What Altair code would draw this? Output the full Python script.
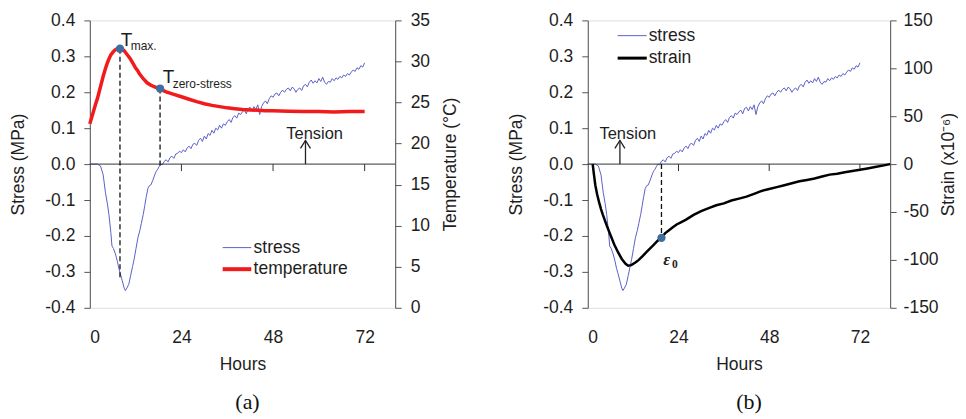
import altair as alt
import pandas as pd

# ---------------- data ----------------
stress_hours = [0, 1, 2, 2.8, 3.5, 4.1, 4.6, 5.0, 5.5, 5.8, 6.2, 6.7, 7.2, 7.6, 8.0, 8.5, 9.0, 9.3,
                9.7, 10.2, 10.7, 11.2, 11.6, 12.1, 12.6, 13.1, 13.5, 14.0, 14.4, 14.8, 15.2, 15.6,
                16.0, 16.5, 17.0, 17.4, 17.8, 18.2, 18.6, 19.0, 19.5, 20.0, 20.5, 21.0, 21.5, 22.0,
                22.5, 23.0, 23.5, 24.0, 24.5, 25.0, 25.5, 26.0, 26.5, 27.0, 27.5, 28.0, 28.5, 29.0,
                29.5, 30.0, 30.5, 31.0, 31.5, 32.0, 32.5, 33.0, 33.5, 34.0, 34.5, 35.0, 35.5, 36.0,
                36.5, 37.0, 37.5, 38.0, 38.5, 39.0, 39.5, 40.0, 40.5, 41.0, 41.5, 42.0, 42.5, 43.0,
                43.5, 44.0, 44.5, 45.0, 45.5, 46.0, 46.5, 47.0, 47.5, 48.0, 48.5, 49.0, 49.5, 50.0,
                50.5, 51.0, 51.5, 52.0, 52.5, 53.0, 53.5, 54.0, 54.5, 55.0, 55.5, 56.0, 56.5, 57.0,
                57.5, 58.0, 58.5, 59.0, 59.5, 60.0, 60.5, 61.0, 61.5, 62.0, 62.5, 63.0, 63.5, 64.0,
                64.5, 65.0, 65.5, 66.0, 66.5, 67.0, 67.5, 68.0, 68.5, 69.0, 69.5, 70.0, 70.5, 71.0,
                71.5, 72.0]
stress_mpa = [0, 0, 0, -0.005, -0.03, -0.08, -0.11, -0.14, -0.19, -0.228, -0.235, -0.25, -0.27,
              -0.29, -0.305, -0.325, -0.345, -0.352, -0.345, -0.335, -0.31, -0.285, -0.265, -0.235,
              -0.205, -0.185, -0.165, -0.14, -0.115, -0.09, -0.068, -0.06, -0.058, -0.045, -0.03,
              -0.02, -0.014, -0.006, 0.0, -0.002, 0.008, 0.012, 0.006, 0.018, 0.022, 0.016, 0.028,
              0.03, 0.036, 0.032, 0.04, 0.034, 0.045, 0.05, 0.043, 0.055, 0.058, 0.052, 0.066,
              0.072, 0.063, 0.078, 0.07, 0.085, 0.08, 0.094, 0.086, 0.1, 0.095, 0.108, 0.1, 0.112,
              0.108, 0.118, 0.124, 0.116, 0.13, 0.135, 0.128, 0.142, 0.138, 0.146, 0.15, 0.14,
              0.155, 0.158, 0.148, 0.16, 0.152, 0.165, 0.138, 0.16, 0.17, 0.176, 0.168, 0.182,
              0.19, 0.186, 0.195, 0.198, 0.19, 0.2, 0.206, 0.2, 0.208, 0.212, 0.204, 0.214, 0.21,
              0.2, 0.208, 0.212, 0.205, 0.218, 0.222, 0.215, 0.228, 0.234, 0.225, 0.232, 0.226,
              0.238, 0.23, 0.242, 0.228, 0.222, 0.23, 0.228, 0.238, 0.232, 0.24, 0.236, 0.244,
              0.24, 0.248, 0.244, 0.252, 0.248, 0.256, 0.262, 0.258, 0.268, 0.264, 0.274, 0.27,
              0.282]

temp_hours = [0, 0.5, 1.0, 1.5, 2.0, 2.5, 3.0, 3.5, 4.0, 4.5, 5.0, 5.5, 6.0, 6.5, 7.0, 7.5, 8.0,
              8.5, 9.0, 9.5, 10.0, 10.5, 11.0, 11.5, 12.0, 12.5, 13.0, 13.5, 14.0, 15.0, 16.0,
              17.0, 18.0, 19.0, 20.0, 22.0, 24.0, 26.0, 28.0, 30.0, 32.0, 34.0, 36.0, 38.0, 40.0,
              42.0, 44.0, 46.0, 48.0, 52.0, 56.0, 60.0, 64.0, 68.0, 72.0]
temperature_c = [22.4, 23.2, 24.0, 24.8, 25.5, 26.4, 27.3, 28.2, 29.0, 29.7, 30.3, 30.8, 31.1,
                 31.35, 31.5, 31.6, 31.6, 31.5, 31.3, 31.0, 30.7, 30.4, 30.0, 29.6, 29.2, 28.9,
                 28.5, 28.2, 27.9, 27.4, 27.1, 26.9, 26.7, 26.5, 26.3, 26.0, 25.7, 25.4, 25.1,
                 24.85, 24.65, 24.5, 24.35, 24.25, 24.15, 24.1, 24.05, 24.0, 24.0, 23.95, 23.9,
                 23.9, 23.85, 23.9, 23.9]

strain_hours = [1.3, 1.6, 2.0, 2.5, 3.0, 3.5, 4.0, 5.0, 6.0, 7.0, 8.0, 9.0, 10.0, 10.7, 11.5,
                12.5, 13.5, 14.5, 15.5, 16.5, 17.5, 18.5, 19.5, 20.5, 21.5, 22.5, 23.5, 24.5,
                26.0, 28.0, 30.0, 32.0, 34.0, 36.0, 38.0, 40.0, 42.0, 44.0, 46.0, 48.0, 50.0,
                52.0, 54.0, 56.0, 58.0, 60.0, 62.0, 64.0, 66.0, 68.0, 70.0, 72.0, 74.0, 76.0,
                78.0, 80.0]
strain_micro = [0, -10, -22, -32, -40, -47, -53, -64, -74, -84, -92, -99, -104, -106, -105.5,
                -103, -100, -96, -92, -88, -84, -80, -76.5, -72, -69, -66, -63, -61, -58, -53,
                -49, -46, -43, -41, -38, -36, -34, -31, -28, -26, -24, -22, -20, -18, -16.5,
                -15, -13, -11, -10, -8.5, -7.2, -6, -4.6, -3.1, -1.6, 0]

x_labels = [0, 24, 48, 72]
x_ticks = [24, 48, 72]
stress_ticks = [-0.4, -0.3, -0.2, -0.1, 0.0, 0.1, 0.2, 0.3, 0.4]
temp_ticks = [0, 5, 10, 15, 20, 25, 30, 35]
strain_ticks = [-150, -100, -50, 0, 50, 100, 150]

# key points
tmax_point = (7.9, 31.55)
tzero_point = (18.4, 26.7)
tmax_drop_stress = -0.317
tzero_drop_stress = -0.005
eps0_point = (19.5, -77.0)

# ---------------- style ----------------
FONT = "Liberation Sans"
SERIF = "Liberation Serif"
BLUE = "#5b60c6"
RED = "#f21b1b"
DOT = "#3f6d9f"
AXIS = "#555555"
TXT = "#1e1e1e"
FS = 17.5

X_DOM = [0, 80]
S_DOM = [-0.4, 0.4]
T_DOM = [0, 35]
E_DOM = [-150, 150]
TICK_LEN = 0.0194  # downward tick length on the zero line (stress units)


def s_to_t(s):
    return (s - S_DOM[0]) / (S_DOM[1] - S_DOM[0]) * (T_DOM[1] - T_DOM[0]) + T_DOM[0]


X_AXIS = alt.Axis(values=x_labels, title="Hours", domain=False, ticks=False, grid=False,
                  labelPadding=21, labelFont=FONT, labelFontSize=FS, labelColor=TXT,
                  titleFont=FONT, titleFontSize=FS, titleFontWeight="normal", titleColor=TXT,
                  titlePadding=9)

axis_common = dict(grid=False, domainColor=AXIS, tickColor=AXIS, tickSize=6,
                   labelFont=FONT, labelFontSize=FS, labelColor=TXT, titleFont=FONT,
                   titleFontSize=FS, titleFontWeight="normal", titleColor=TXT)

S_AXIS = alt.Axis(values=stress_ticks,
                  labelExpr="datum.value < -0.001 ? '-' + format(-datum.value, '.1f') : format(abs(datum.value), '.1f')",
                  title="Stress (MPa)", orient="left", titlePadding=17, labelPadding=9, **axis_common)
T_AXIS = alt.Axis(values=temp_ticks, title="Temperature (°C)", orient="right", titlePadding=12,
                  labelPadding=9, titleAngle=270, titleBaseline="top", **axis_common)
E_AXIS = alt.Axis(values=strain_ticks, title="Strain (x10⁻⁶)", orient="right", titlePadding=1,
                  labelPadding=7, titleAngle=270, titleBaseline="top",
                  labelExpr="datum.value < 0 ? '-' + format(-datum.value, 'd') : format(datum.value, 'd')",
                  **axis_common)

XS = alt.Scale(domain=X_DOM, nice=False, zero=False)
SS = alt.Scale(domain=S_DOM, nice=False, zero=False)
TS = alt.Scale(domain=T_DOM, nice=False, zero=False)
ES = alt.Scale(domain=E_DOM, nice=False, zero=False)

RIGHT = {"s": (SS, S_AXIS), "T": (TS, T_AXIS), "e": (ES, E_AXIS)}


def xs(field="h"):
    return alt.X(f"{field}:Q", scale=XS, axis=X_AXIS, title="Hours")


def yy(field):
    sc, ax = RIGHT[field]
    return alt.Y(f"{field}:Q", scale=sc, axis=ax)


def txt(df, size, yfield, align="left", baseline="middle", style="normal", weight="normal",
        font=FONT, color=TXT):
    return alt.Chart(df).mark_text(align=align, baseline=baseline, fontSize=size, font=font,
                                   fontStyle=style, fontWeight=weight, color=color).encode(
        x=xs(), y=yy(yfield), text="t:N")


def stress_group(legend_h, legend_s, legend_labels, tension_h, tension_s, arrow_h, second_color,
                 second_width):
    df_s = pd.DataFrame({"h": stress_hours, "s": stress_mpa})
    line = alt.Chart(df_s).mark_line(color=BLUE, strokeWidth=1).encode(x=xs(), y=yy("s"))
    zero = alt.Chart(pd.DataFrame({"h": [X_DOM[0]], "h2": [X_DOM[1]], "s": [0.0]})).mark_rule(
        color="#333333", strokeWidth=1).encode(x=xs(), x2="h2:Q", y=yy("s"))
    ticks = alt.Chart(pd.DataFrame({"h": x_ticks, "s": [0.0] * 3, "s2": [-TICK_LEN] * 3})).mark_rule(
        color="#333333", strokeWidth=1).encode(x=xs(), y=yy("s"), y2="s2:Q")
    leg1 = alt.Chart(pd.DataFrame({"h": [legend_h[0]], "h2": [legend_h[1]], "s": [legend_s[0]]})).mark_rule(
        color=BLUE, strokeWidth=1).encode(x=xs(), x2="h2:Q", y=yy("s"))
    leg2 = alt.Chart(pd.DataFrame({"h": [legend_h[0]], "h2": [legend_h[1]], "s": [legend_s[1]]})).mark_rule(
        color=second_color, strokeWidth=second_width).encode(x=xs(), x2="h2:Q", y=yy("s"))
    legt = txt(pd.DataFrame({"h": [legend_h[2]] * 2, "s": legend_s, "t": legend_labels}), FS, "s")
    tens = txt(pd.DataFrame({"h": [tension_h], "s": [tension_s], "t": ["Tension"]}), 16.5, "s",
               align="center", baseline="alphabetic")
    arrow = alt.Chart(pd.DataFrame({"h": [arrow_h], "s": [0.0], "s2": [0.066]})).mark_rule(
        color="#222222", strokeWidth=1.3).encode(x=xs(), y=yy("s"), y2="s2:Q")
    head = alt.Chart(pd.DataFrame({"h": [arrow_h], "s": [0.066]})).mark_point(
        shape="M -1 1.6 L 0 0 L 1 1.6", filled=False, size=100, color="#222222", strokeWidth=1.3,
        opacity=1).encode(x=xs(), y=yy("s"))
    return alt.layer(line, zero, ticks, leg1, leg2, legt, tens, arrow, head)


# ---------------- panel (a) ----------------
left_a = stress_group([34.8, 42.3, 42.9], [-0.2325, -0.2925], ["stress", "temperature"],
                      58.9, 0.0694, 56.5, RED, 4)

df_t = pd.DataFrame({"h": temp_hours, "T": temperature_c})
temp_line = alt.Chart(df_t).mark_line(color=RED, strokeWidth=3.5).encode(x=xs(), y=yy("T"))
df_dash = pd.DataFrame({"h": [tmax_point[0], tzero_point[0]], "T": [tmax_point[1], tzero_point[1]],
                        "T2": [s_to_t(tmax_drop_stress), s_to_t(tzero_drop_stress)]})
dash = alt.Chart(df_dash).mark_rule(color="#111111", strokeWidth=1.3, strokeDash=[5, 3]).encode(
    x=xs(), y=yy("T"), y2="T2:Q")
df_pts = pd.DataFrame({"h": [tmax_point[0], tzero_point[0]], "T": [tmax_point[1], tzero_point[1]]})
pts = alt.Chart(df_pts).mark_circle(color=DOT, size=70, opacity=1).encode(x=xs(), y=yy("T"))
big_T = txt(pd.DataFrame({"h": [8.1, 19.1], "T": [31.84, 27.34], "t": ["T", "T"]}), 19, "T",
            baseline="alphabetic")
subs = txt(pd.DataFrame({"h": [10.7, 21.7], "T": [31.35, 26.74], "t": ["max.", "zero-stress"]}), 12,
           "T", baseline="alphabetic")
right_a = alt.layer(temp_line, dash, pts, big_T, subs)

panel_a = alt.layer(left_a, right_a).resolve_scale(y="independent").properties(
    width=306, height=288,
    title=alt.TitleParams("(a)", orient="bottom", font=SERIF, fontSize=22, fontWeight="normal",
                          color="#111111", frame="group", anchor="middle", dx=5, offset=19))

# ---------------- panel (b) ----------------
left_b = stress_group([7.9, 15.6, 16.1], [0.3575, 0.295], ["stress", "strain"],
                      10.6, 0.0694, 8.5, "#000000", 3)

df_e = pd.DataFrame({"h": strain_hours, "e": strain_micro})
strain_line = alt.Chart(df_e).mark_line(color="#000000", strokeWidth=2.5).encode(x=xs(), y=yy("e"))
dash_b = alt.Chart(pd.DataFrame({"h": [eps0_point[0]], "e": [0.0], "e2": [eps0_point[1]]})).mark_rule(
    color="#111111", strokeWidth=1.3, strokeDash=[5, 3]).encode(x=xs(), y=yy("e"), y2="e2:Q")
pt_b = alt.Chart(pd.DataFrame({"h": [eps0_point[0]], "e": [eps0_point[1]]})).mark_circle(
    color=DOT, size=70, opacity=1).encode(x=xs(), y=yy("e"))
eps = txt(pd.DataFrame({"h": [20.0], "e": [-100.0], "t": ["ε"]}), 17, "e", style="italic",
          weight="bold", font=SERIF)
eps_sub = txt(pd.DataFrame({"h": [22.3], "e": [-105.0], "t": ["0"]}), 11.5, "e", weight="bold",
              font=SERIF)
right_b = alt.layer(strain_line, dash_b, pt_b, eps, eps_sub)

panel_b = alt.layer(left_b, right_b).resolve_scale(y="independent").properties(
    width=303, height=288,
    title=alt.TitleParams("(b)", orient="bottom", font=SERIF, fontSize=22, fontWeight="normal",
                          color="#111111", frame="group", anchor="middle", dx=10, offset=19))

chart = alt.hconcat(panel_a, panel_b, spacing=193, bounds="flush").properties(
    padding={"left": 1, "top": 2, "right": 0, "bottom": 0}
).configure_view(stroke="#a8a8a8", strokeWidth=1).configure(background="white")

chart.save("out.html", embed_options={"renderer": "svg", "actions": False})
